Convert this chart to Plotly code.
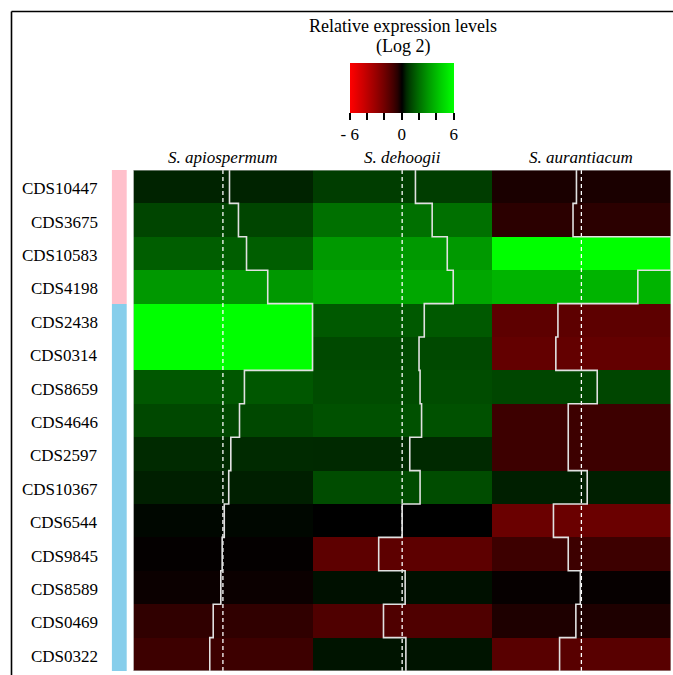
import plotly.graph_objects as go

# ---------------- data ----------------
genes = ["CDS10447", "CDS3675", "CDS10583", "CDS4198", "CDS2438", "CDS0314",
         "CDS8659", "CDS4646", "CDS2597", "CDS10367", "CDS6544", "CDS9845",
         "CDS8589", "CDS0469", "CDS0322"]
species = ["S. apiospermum", "S. dehoogii", "S. aurantiacum"]
apiospermum = [0.44, 1.04, 1.58, 3.0, 6.0, 6.0, 1.44, 1.11, 0.53, 0.39, 0.09, -0.05, -0.14, -0.65, -0.88]
dehoogii = [0.89, 2.01, 3.02, 3.42, 1.48, 1.13, 1.2, 1.3, 0.51, 1.2, 0.0, -1.57, 0.2, -1.25, 0.25]
aurantiacum = [-0.33, -0.56, 6.0, 3.78, -1.57, -1.71, 1.06, -0.88, -0.88, 0.39, -1.87, -0.88, -0.07, -0.37, -1.46]
groups = [0, 0, 0, 0, 1, 1, 1, 1, 1, 1, 1, 1, 1, 1, 1]
key_ticks = [-6, -4, -2, 0, 2, 4, 6]
key_labels = ["- 6", "", "", "0", "", "", "6"]

series = [apiospermum, dehoogii, aurantiacum]
VMIN, VMAX = -6, 6
W, H = 673, 675
FONT = "Liberation Serif"


def px(x):
    return x / W


def py(y):
    return 1 - y / H


# red-black-green colour scale
cs = []
n = 24
for i in range(n + 1):
    t = i / n
    v = VMIN + (VMAX - VMIN) * t
    a = (abs(v) / 6) ** 0.75
    c = int(round(255 * a))
    col = f"rgb({c},0,0)" if v < 0 else f"rgb(0,{c},0)"
    cs.append([t, col])

nrow = len(genes)
rows_y = [i + 0.5 for i in range(nrow)]
cols_x = [j + 0.5 for j in range(len(species))]
z = [[series[j][i] for j in range(len(species))] for i in range(nrow)]

fig = go.Figure()

fig.add_trace(go.Heatmap(
    x=cols_x, y=rows_y, z=z, zmin=VMIN, zmax=VMAX, colorscale=cs,
    xaxis="x", yaxis="y", hoverinfo="skip",
    colorbar=dict(
        orientation="h", x=px(401.7), xanchor="center", y=py(62.7), yanchor="top",
        yref="paper", thickness=50, thicknessmode="pixels", len=103.5, lenmode="pixels",
        xpad=0, ypad=0, outlinewidth=0,
        ticks="outside", ticklen=7, tickwidth=2, tickcolor="black",
        tickvals=key_ticks, ticktext=key_labels,
        tickfont=dict(family=FONT, size=17, color="black"),
    ),
))

# row side colours
fig.add_trace(go.Heatmap(
    x=[0.5], y=rows_y, z=[[g] for g in groups], zmin=0, zmax=1,
    colorscale=[[0, "rgb(255,192,203)"], [1, "rgb(135,206,235)"]],
    showscale=False, xaxis="x2", yaxis="y", hoverinfo="skip",
))

# dashed centre lines (value 0)
for j in range(len(species)):
    fig.add_trace(go.Scatter(
        x=[cols_x[j], cols_x[j]], y=[0, nrow], mode="lines",
        line=dict(color="white", width=1.3, dash="4px,3px"),
        xaxis="x", yaxis="y", showlegend=False, hoverinfo="skip",
    ))

# trace lines
for j in range(len(species)):
    xs = [j + 0.5 + v / (VMAX - VMIN) for v in series[j]]
    xx = [xs[0]] + xs
    yy = [0] + [i + 1 for i in range(nrow)]
    fig.add_trace(go.Scatter(
        x=xx, y=yy, mode="lines", line=dict(color="rgb(225,225,225)", width=1.6, shape="hv"),
        xaxis="x", yaxis="y", showlegend=False, hoverinfo="skip",
    ))

annotations = []
for i, g in enumerate(genes):
    annotations.append(dict(
        x=px(100), xref="paper", y=rows_y[i], yref="y", text=g, showarrow=False,
        xanchor="right", yanchor="middle", yshift=-2,
        font=dict(family=FONT, size=17, color="black"),
    ))
for j, s in enumerate(species):
    annotations.append(dict(
        x=cols_x[j], xref="x", y=py(157), yref="paper", text=f"<i>{s}</i>", showarrow=False,
        xanchor="center", yanchor="middle",
        font=dict(family=FONT, size=17, color="black"),
    ))
annotations.append(dict(
    x=px(403), xref="paper", y=py(26), yref="paper", text="Relative expression levels",
    showarrow=False, xanchor="center", yanchor="middle",
    font=dict(family=FONT, size=18, color="black"),
))
annotations.append(dict(
    x=px(403), xref="paper", y=py(46), yref="paper", text="(Log 2)",
    showarrow=False, xanchor="center", yanchor="middle",
    font=dict(family=FONT, size=18, color="black"),
))

shapes = [
    # outer frame (left and top)
    dict(type="line", xref="paper", yref="paper", x0=px(11.5), x1=px(11.5), y0=py(11.5), y1=py(H + 2),
         line=dict(color="black", width=1.6)),
    dict(type="line", xref="paper", yref="paper", x0=px(11.5), x1=px(W + 2), y0=py(11.5), y1=py(11.5),
         line=dict(color="black", width=1.6)),
    # heatmap border
    dict(type="rect", xref="x", yref="y", x0=0, x1=3, y0=0, y1=nrow,
         line=dict(color="rgb(200,200,200)", width=1)),
    # key zero line
    dict(type="line", xref="paper", yref="paper", x0=px(401.7), x1=px(401.7), y0=py(63), y1=py(113),
         line=dict(color="white", width=1.3, dash="4px,3px")),
]

fig.update_layout(
    width=W, height=H, margin=dict(l=0, r=0, t=0, b=0),
    paper_bgcolor="white", plot_bgcolor="white", showlegend=False,
    xaxis=dict(domain=[px(133.3), px(671)], range=[0, 3], visible=False, fixedrange=True),
    xaxis2=dict(domain=[px(111.7), px(127)], range=[0, 1], visible=False, fixedrange=True),
    yaxis=dict(domain=[py(671), py(170)], range=[nrow, 0], visible=False, fixedrange=True),
    annotations=annotations, shapes=shapes,
)

fig.write_html("out.html")
